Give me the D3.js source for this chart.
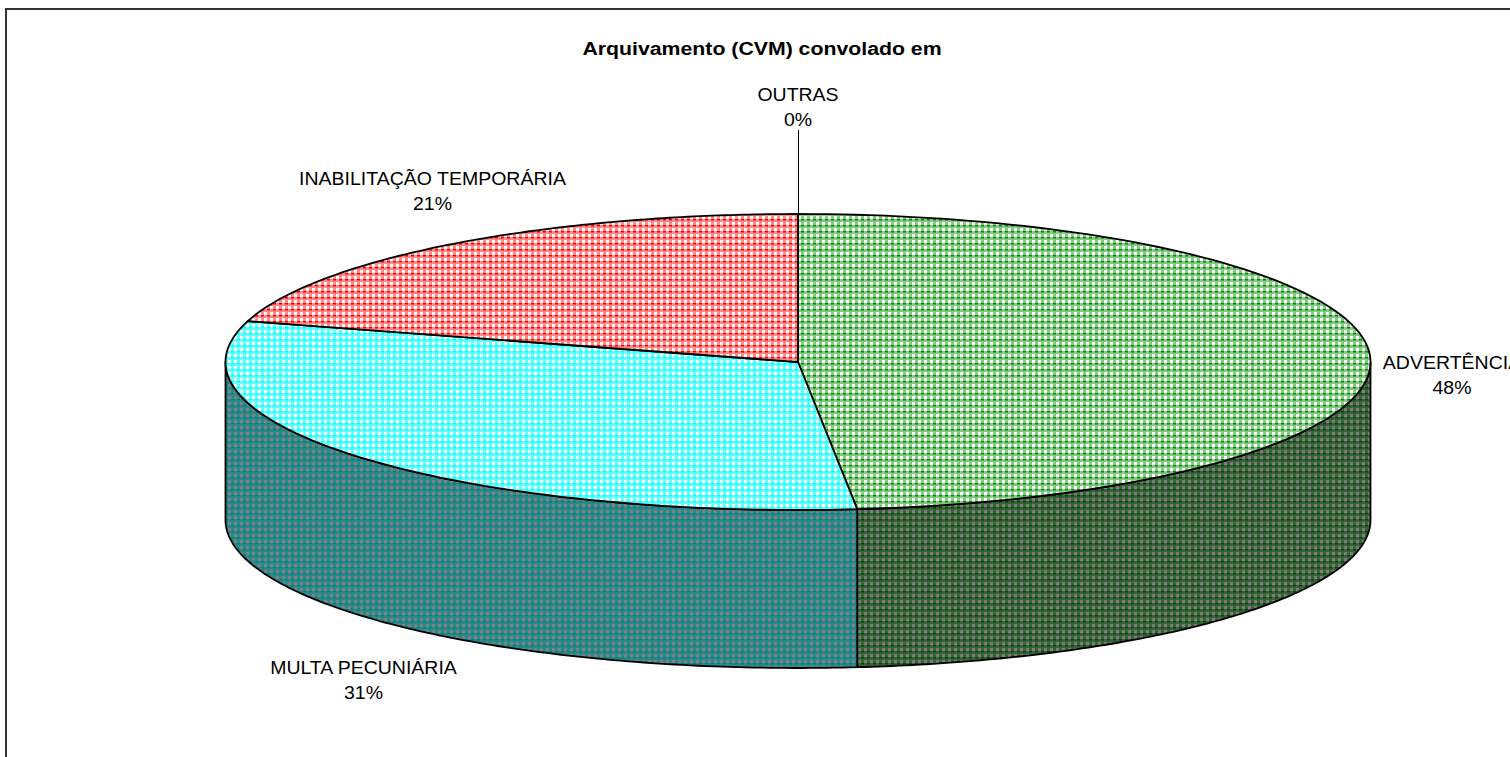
<!DOCTYPE html>
<html><head><meta charset="utf-8">
<script src="https://cdn.jsdelivr.net/npm/d3@7"></script>
<style>html,body{margin:0;padding:0;background:#fff;overflow:hidden}svg{display:block}text{font-family:"Liberation Sans",Arial,sans-serif;fill:#000}</style>
</head><body><div id="c"></div>
<script>
const categories = ["ADVERTÊNCIA","MULTA PECUNIÁRIA","INABILITAÇÃO TEMPORÁRIA","OUTRAS"];
const values = [48.35, 31.1, 20.55, 0];
const percentLabels = ["48%","31%","21%","0%"];
const titleText = "Arquivamento (CVM) convolado em";
const topColors = [["#82cc82","#0a8a0a"],["#66ffff","#00ffff"],["#ff8a8a","#ff0000"]];
const wallColors = [["#386238","#004800","#7c7c7c"],["#2a8a8a","#008080","#808080"]];

const W=1510,H=757,cx=798,cy=362,rx=572.5,ry=148,depth=158;
const svg=d3.select("#c").append("svg").attr("width",W).attr("height",H);
const defs=svg.append("defs");
function pattern(id,light,dark,bg){
  const p=defs.append("pattern").attr("id",id).attr("patternUnits","userSpaceOnUse").attr("width",6).attr("height",6);
  p.append("rect").attr("width",6).attr("height",6).attr("fill",light);
  p.append("rect").attr("x",0).attr("y",0).attr("width",3).attr("height",3).attr("fill",bg);
  p.append("rect").attr("x",3).attr("y",3).attr("width",3).attr("height",1.5).attr("fill",dark);
}
topColors.forEach((c,i)=>pattern("t"+i,c[0],c[1],"#fff"));
wallColors.forEach((c,i)=>pattern("w"+i,c[0],c[1],c[2]));

const x=d3.scaleLinear().domain([-1,1]).range([cx-rx,cx+rx]);
const y=d3.scaleLinear().domain([-1,1]).range([cy-ry,cy+ry]);
const line=d3.line().x(d=>x(d[0])).y(d=>y(d[1])+(d[2]||0));
const pie=d3.pie().sort(null)(values);
const pt=(a,dz)=>[Math.sin(a),-Math.cos(a),dz||0];
const arcPts=(a0,a1,dz)=>d3.range(0,121).map(i=>pt(a0+(a1-a0)*i/120,dz));

[pie[0],pie[1]].forEach((s,i)=>{
  const a0=Math.max(s.startAngle,Math.PI/2),a1=Math.min(s.endAngle,3*Math.PI/2);
  const pts=arcPts(a0,a1,0).concat(arcPts(a1,a0,depth));
  svg.append("path").attr("d",line(pts)+"Z").attr("fill",`url(#w${i})`).attr("stroke","#000").attr("stroke-width",1.8).attr("stroke-linejoin","round");
});
pie.slice(0,3).forEach((s,i)=>{
  const pts=[[0,0,0]].concat(arcPts(s.startAngle,s.endAngle,0));
  svg.append("path").attr("d",line(pts)+"Z").attr("fill",`url(#t${i})`).attr("stroke","#000").attr("stroke-width",1.8).attr("stroke-linejoin","round");
});
svg.append("line").attr("x1",798.5).attr("x2",798.5).attr("y1",130).attr("y2",y(-1)).attr("stroke","#000").attr("stroke-width",1);
svg.append("path").attr("d",`M6 ${H+5}V9H${W+5}`).attr("fill","none").attr("stroke","#333").attr("stroke-width",2);

const sx=1.06;
svg.append("text").attr("transform",`translate(762,54.5) scale(1.12,1)`).attr("text-anchor","middle").attr("font-weight","bold").attr("font-size",19).text(titleText);
const labelPos=[[1452,368.5],[363.5,673.5],[432.5,184.5],[798,100.5]];
categories.forEach((c,i)=>{
  const g=svg.append("g").attr("text-anchor","middle").attr("font-size",18.4);
  g.append("text").attr("transform",`translate(${labelPos[i][0]},${labelPos[i][1]}) scale(${sx},1)`).text(c);
  g.append("text").attr("transform",`translate(${labelPos[i][0]},${labelPos[i][1]+25.5}) scale(${sx},1)`).text(percentLabels[i]);
});
</script></body></html>
